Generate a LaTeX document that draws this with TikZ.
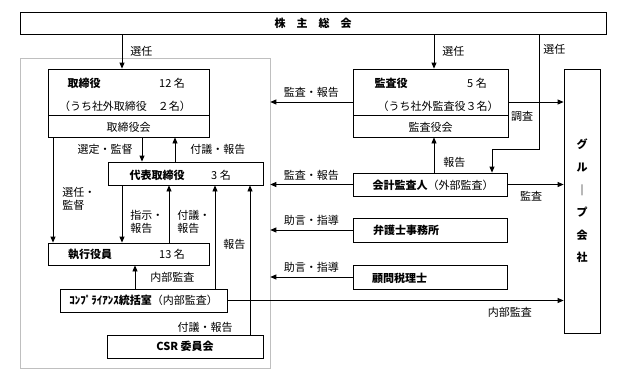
\documentclass[tikz,border=0pt]{standalone}
\usepackage{fontspec}
\setmainfont{Noto Sans CJK JP}
\usetikzlibrary{arrows.meta}

\begin{document}
\begin{tikzpicture}[
  x=1pt, y=-1pt,
  font=\fontsize{11}{13}\selectfont,
  unit/.style={draw, line width=0.8pt, inner sep=0pt},
  connection/.style={-{Triangle[length=6pt, width=5pt]}, line width=0.8pt},
  lbl/.style={inner sep=1pt, align=left},
  title/.style={inner sep=0pt, font=\fontsize{11}{13}\selectfont\bfseries}
]
  \useasboundingbox (0,0) rectangle (619,381);

  % Shareholders' meeting, company frame and group companies.
  \node[unit, minimum width=586pt, minimum height=22pt, font=\fontsize{11}{13}\selectfont\bfseries]
    (soukai) at (313,23) {株　主　総　会};
  \node[draw=black!25, line width=0.6pt, minimum width=250pt, minimum height=310pt] (honsha) at (145,213) {};
  \node[unit, minimum width=36pt, minimum height=264pt, align=center,
        font=\fontsize{11}{22.6}\selectfont\bfseries] (group) at (582,201) {グ\\ル\\｜\\プ\\会\\社};

  % Board of directors.
  \node[unit, minimum width=161pt, minimum height=46pt] (tori) at (128.5,92) {};
  \node[unit, minimum width=161pt, minimum height=22pt] (torikai) at (128.5,126) {};
  \node[title] (tori-name) at (84,83) {取締役};
  \node[lbl] (tori-num) at (172,83) {12 名};
  \node[lbl] (tori-sub) at (125,106) {（うち社外取締役　２名）};
  \node[lbl] (torikai-name) at (128.5,127) {取締役会};

  % Auditors.
  \node[unit, minimum width=155pt, minimum height=46pt] (kansa) at (430.5,92) {};
  \node[unit, minimum width=155pt, minimum height=22pt] (kansakai) at (430.5,126) {};
  \node[title] (kansa-name) at (391,83) {監査役};
  \node[lbl] (kansa-num) at (477,83) {5 名};
  \node[lbl] (kansa-sub) at (438,106) {（うち社外監査役３名）};
  \node[lbl] (kansakai-name) at (430.5,127) {監査役会};

  \node[unit, minimum width=155pt, minimum height=23pt] (daihyo) at (185.5,173.5) {};
  \node[title] (daihyo-name) at (157,175) {代表取締役};
  \node[lbl] (daihyo-num) at (221,175) {3 名};

  \node[unit, minimum width=154pt, minimum height=23pt] (kaikei) at (430,184.5) {};
  \node[lbl] (kaikei-name) at (433,185) {\textbf{会計監査人}（外部監査）};

  \node[unit, minimum width=154pt, minimum height=24pt] (bengoshi) at (430,230) {};
  \node[title, anchor=west] (bengoshi-name) at (373,230) {弁護士事務所};

  \node[unit, minimum width=154pt, minimum height=24pt] (zeirishi) at (430,277) {};
  \node[title, anchor=west] (zeirishi-name) at (372,278) {顧問税理士};

  \node[unit, minimum width=161pt, minimum height=22pt] (shikko) at (128.5,254) {};
  \node[title] (shikko-name) at (90,254) {執行役員};
  \node[lbl] (shikko-num) at (172,254) {13 名};

  \node[unit, minimum width=167pt, minimum height=23pt] (comp) at (143.5,300.5) {};
  \node[lbl] (comp-name) at (143.5,300.5) {\textbf{ｺﾝﾌﾟﾗｲｱﾝｽ統括室}（内部監査）};

  \node[unit, minimum width=156pt, minimum height=23pt] (csr) at (185,346.5) {};
  \node[title] (csr-name) at (185,346.5) {CSR 委員会};

  % Columns and rows where the connectors run.
  \foreach \n/\x in {xa/53, xb/122, xc/135, xd/142, xe/169, xf/175, xg/215, xh/250, xi/434, xj/492, xk/539} {
    \coordinate (\n) at (\x,0);
  }
  \coordinate (ya) at (0,102);
  \coordinate (yb) at (0,149);

  \draw[connection] (soukai.south -| xb) -- (tori.north -| xb) node[lbl, midway, right=7pt] {選任};
  \draw[connection] (soukai.south -| xi) -- (kansa.north -| xi) node[lbl, midway, right=7pt] {選任};
  \draw[connection] (soukai.south -| xk) -- node[lbl, pos=0.13, right=3pt] {選任} (xk |- yb) -| (kaikei.north -| xj);

  \draw[connection] (kansa.east |- ya) -- (group.west |- ya) node[lbl, pos=0.25, below=8pt] {調査};
  \draw[connection] (kansa.west |- ya) -- (honsha.east |- ya) node[lbl, midway, above=3pt] {監査・報告};

  \draw[connection] (torikai.south -| xd) -- (daihyo.north -| xd) node[lbl, midway, left=8pt] {選定・監督};
  \draw[connection] (daihyo.north -| xf) -- (torikai.south -| xf) node[lbl, midway, right=14pt] {付議・報告};
  \draw[connection] (torikai.south -| xa) -- (shikko.north -| xa) node[lbl, pos=0.58, right=8pt] {選任・\\監督};
  \draw[connection] (daihyo.south -| xb) -- (shikko.north -| xb) node[lbl, pos=0.64, right=7pt] {指示・\\報告};
  \draw[connection] (shikko.north -| xe) -- (daihyo.south -| xe) node[lbl, pos=0.36, right=7pt] {付議・\\報告};
  \draw[connection] (comp.north -| xg) -- (daihyo.south -| xg) node[lbl, pos=0.43, right=7pt] {報告};
  \draw[connection] (csr.north -| xh) -- (daihyo.south -| xh) node[lbl, pos=0.05, left=16pt] {付議・報告};
  \draw[connection] (comp.north -| xc) -- (shikko.south -| xc) node[lbl, midway, right=14pt] {内部監査};
  \draw[connection] (comp.east) -- (group.west |- comp.east) node[lbl, pos=0.84, below=5pt] {内部監査};

  \draw[connection] (kaikei.north -| xi) -- (kansakai.south -| xi) node[lbl, pos=0.28, right=8pt] {報告};
  \draw[connection] (kaikei.east) -- (group.west |- kaikei.east) node[lbl, pos=0.42, below=5pt] {監査};

  % Advice and audit from the outside parties into the company frame.
  \foreach \src/\txt in {kaikei/監査・報告, bengoshi/助言・指導, zeirishi/助言・指導} {
    \draw[connection] (\src.west) -- (honsha.east |- \src.west) node[lbl, midway, above=3pt] {\txt};
  }
\end{tikzpicture}
\end{document}
